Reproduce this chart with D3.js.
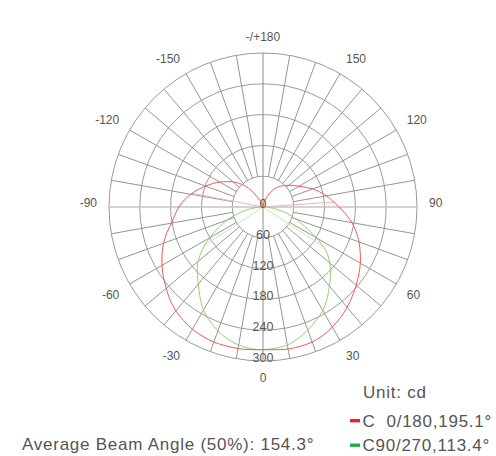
<!DOCTYPE html>
<html>
<head>
<meta charset="utf-8">
<script src="https://cdn.jsdelivr.net/npm/d3@7"></script>
<style>
  body { margin: 0; background: #fff; }
  svg { display: block; font-family: "Liberation Sans", Arial, sans-serif; }
</style>
</head>
<body>
<svg id="chart" width="496" height="456"></svg>
<script>

// gamma angles, 0 = straight down, positive to the right
var angles = d3.range(-180, 181, 5);

// C0/180 plane, cd
var c0Values = [
    0, 1, 2, 4, 8, 14, 23, 38, 53, 65, 76, 86, 97, 108, 119, 131, 143,
    154, 164, 172, 181, 194, 206, 217, 227, 237, 246, 256, 264, 270, 275,
    278, 280, 280, 280, 279, 278, 279, 281, 281, 280, 276, 270, 263, 255,
    246, 237, 228, 219, 209, 199, 188, 176, 162, 148, 136, 125, 114, 103,
    91, 81, 73, 66, 59, 53, 46, 38, 29, 20, 12, 6, 2, 0
];

// C90/270 plane, cd
var c90Values = [
    0, 0, 0, 0, 0, 0, 0, 0, 0, 0, 0, 0, 0, 0, 0, 0, 0,
    1, 5, 14, 32, 52, 75, 96, 120, 144, 165, 181, 196, 214, 232,
    245, 257, 266, 273, 277, 278, 276, 273, 265, 255, 244, 233, 218, 201,
    186, 170, 150, 120, 90, 68, 48, 29, 13, 4, 1, 0,
    0, 0, 0, 0, 0, 0, 0, 0, 0, 0, 0, 0, 0, 0, 0, 0
];

// half-intensity (beam) edges
var c0Beam = [-101, 94];
var c0Half = 141;
var c90Beam = [-56.7, 56.7];
var c90Half = 139;

var ringTicks = [0, 60, 120, 180, 240, 300];
var angleTicks = [-150, -120, -90, -60, -30, 0, 30, 60, 90, 120, 150, 180];

var legendNames = ["C  0/180,195.1\u00b0", "C90/270,113.4\u00b0"];
var unitLabel = "Unit: cd";
var beamLabel = "Average Beam Angle (50%): 154.3\u00b0";

var cx = 263, cy = 207, R = 154;

var svg = d3.select("#chart");

var r = d3.scaleLinear().domain([0, 300]).range([0, R]);

function rad(deg) { return deg * Math.PI / 180; }
function px(deg, rr) { return cx + rr * Math.sin(rad(deg)); }
function py(deg, rr) { return cy + rr * Math.cos(rad(deg)); }

var grid = svg.append("g");

// spokes every 10 degrees, starting at the first ring
d3.range(-170, 181, 10).forEach(function(a) {
    if (a % 90 === 0) return;
    grid.append("line")
        .attr("x1", px(a, r(60))).attr("y1", py(a, r(60)))
        .attr("x2", px(a, R)).attr("y2", py(a, R))
        .attr("stroke", "#7a7a7a")
        .attr("stroke-width", 0.8);
});

grid.selectAll("circle.ring")
    .data(ringTicks.slice(1))
    .enter().append("circle")
    .attr("class", "ring")
    .attr("cx", cx).attr("cy", cy)
    .attr("r", function(d) { return r(d); })
    .attr("fill", "none")
    .attr("stroke", "#9a9a9a")
    .attr("stroke-width", 1);

// main axes
grid.append("line")
    .attr("x1", cx - R).attr("y1", cy).attr("x2", cx + R).attr("y2", cy)
    .attr("stroke", "#c4c4c4").attr("stroke-width", 1.6);
grid.append("line")
    .attr("x1", cx).attr("y1", cy - R).attr("x2", cx).attr("y2", cy + R)
    .attr("stroke", "#8a8a8a").attr("stroke-width", 1);

// beam edge lines
function beamLines(list, half, color) {
    list.forEach(function(a) {
        svg.append("line")
            .attr("x1", cx).attr("y1", cy)
            .attr("x2", px(a, r(half))).attr("y2", py(a, r(half)))
            .attr("stroke", color).attr("stroke-width", 1);
    });
}
beamLines(c0Beam, c0Half, "#f5b4b4");
beamLines(c90Beam, c90Half, "#c6e8b4");

var radial = d3.lineRadial()
    .angle(function(d) { return Math.PI - rad(d[0]); })
    .radius(function(d) { return r(d[1]); })
    .curve(d3.curveCatmullRom);

function curve(values, color) {
    svg.append("path")
        .datum(angles.map(function(a, i) { return [a, values[i]]; }))
        .attr("transform", "translate(" + cx + "," + cy + ")")
        .attr("d", radial)
        .attr("fill", "none")
        .attr("stroke", color)
        .attr("stroke-width", 1);
}
curve(c90Values, "#93d26e");
curve(c0Values, "#f05a5a");

// ring labels
svg.selectAll("text.ring")
    .data(ringTicks)
    .enter().append("text")
    .attr("class", "ring")
    .attr("x", cx)
    .attr("y", function(d) { return cy + r(d) + 1; })
    .attr("text-anchor", "middle")
    .attr("font-size", 12.5)
    .attr("fill", "#555")
    .text(function(d) { return d; });

// angle labels
var labelR = R + 12;
svg.selectAll("text.angle")
    .data(angleTicks)
    .enter().append("text")
    .attr("class", "angle")
    .attr("x", function(d) { return px(d, labelR); })
    .attr("y", function(d) { return py(d, labelR); })
    .attr("text-anchor", function(d) {
        var s = Math.sin(rad(d));
        return s > 0.01 ? "start" : (s < -0.01 ? "end" : "middle");
    })
    .attr("dominant-baseline", function(d) {
        return Math.cos(rad(d)) > 0.01 ? "hanging" : "auto";
    })
    .attr("font-size", 12)
    .attr("fill", "#555")
    .text(function(d) { return d === 180 ? "-/+180" : d; });

// unit + legend
var textStyle = function(sel) {
    sel.attr("font-size", 17)
        .attr("letter-spacing", 0.75)
        .attr("fill", "#555");
};

svg.append("text")
    .attr("x", 363).attr("y", 398)
    .call(textStyle)
    .text(unitLabel);

var legendColors = ["#e8232b", "#22ab48"];
var legendY = [426.5, 451];

legendNames.forEach(function(name, i) {
    svg.append("rect")
        .attr("x", 350).attr("y", legendY[i] - 7.5)
        .attr("width", 10).attr("height", 3.4)
        .attr("fill", legendColors[i]);
    svg.append("text")
        .attr("x", 362.5).attr("y", legendY[i])
        .attr("xml:space", "preserve")
        .style("white-space", "pre")
        .call(textStyle)
        .text(name);
});

svg.append("text")
    .attr("x", 22).attr("y", 450)
    .call(textStyle)
    .text(beamLabel);

</script>
</body>
</html>
